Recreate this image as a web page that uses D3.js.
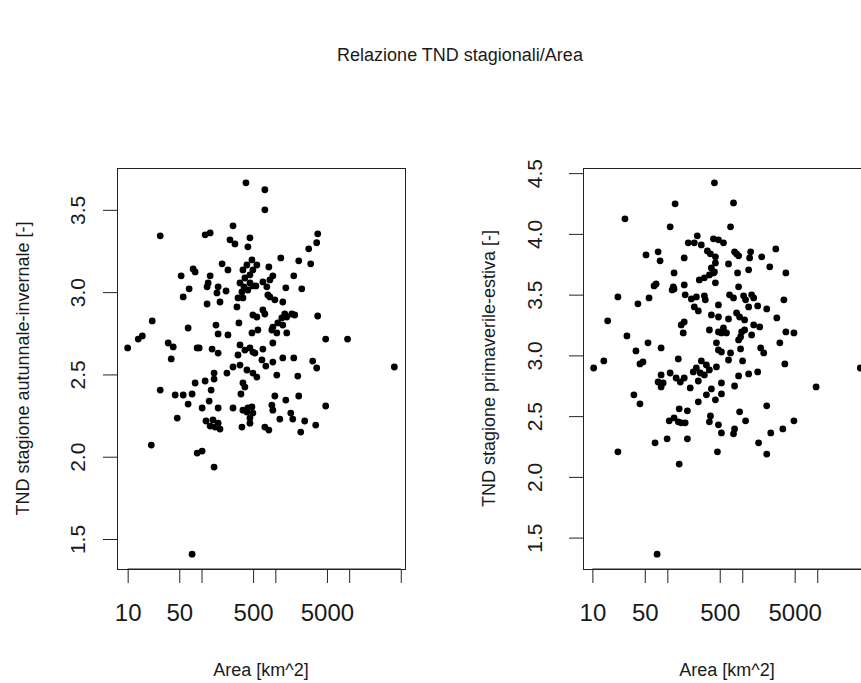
<!DOCTYPE html>
<html>
<head>
<meta charset="utf-8">
<script src="https://cdn.jsdelivr.net/npm/d3@7"></script>
<style>
  body { margin: 0; background: #fff; }
  svg text { font-family: "Liberation Sans", Arial, sans-serif; fill: #1a1a1a; }
</style>
</head>
<body>
<svg id="chart" width="861" height="683"></svg>
<script>
// Autumn-winter TND versus catchment area
const areaAI = [400,721,721,27.6,112,131,267,243,284,453,425,3750,3631,2831,1186,2075,3013,77,82,53,
  190,228,131,364,412,482,562,497,453,387,332,376,453,546,353,425,817,925,843,678,
  767,1778,497,1387,2280,123,119,168,215,162,68,56.5,178,119,312,302,364,792,843,985,
  1262,497,562,321,678,721,1343,1671,1832,1225,1429,1081,1262,3750,21.5,65.9,157,168,228,482,
  580,925,897,1047,1429,15.8,13.9,10,35.4,41.4,38.9,87.3,92.9,139,168,4808,9506,925,332,387,
  312,453,497,678,529,658,925,1262,1778,3206,40900,744,3631,221,267,332,412,497,562,148,
  148,112,82,27.6,44,56.5,74.6,135,364,387,342,1047,2014,985,1387,2075,4808,65.9,127,102,
  168,267,364,425,482,497,453,412,453,897,925,1618,1722,1150,2500,3524,721,817,2208,46.9,
  115,143,168,131,153,178,353,20.9,87.3,102,148,74.6];
const tndAI = [3.664,3.622,3.50,3.342,3.348,3.36,3.403,3.318,3.293,3.33,3.275,3.354,3.30,3.263,3.208,3.19,3.172,3.141,3.123,3.099,
  3.172,3.135,3.099,3.135,3.165,3.196,3.165,3.135,3.105,3.086,3.056,3.032,3.056,3.038,3.001,3.013,3.153,3.099,3.074,3.062,
  3.032,3.099,3.038,3.026,3.02,3.056,3.032,3.032,3.007,2.995,3.02,2.971,2.94,2.928,2.965,2.91,2.965,2.983,2.971,2.953,
  2.94,2.861,2.849,2.813,2.892,2.867,2.867,2.867,2.861,2.843,2.849,2.813,2.80,2.855,2.825,2.782,2.80,2.746,2.74,2.752,
  2.77,2.788,2.77,2.752,2.752,2.734,2.715,2.661,2.691,2.667,2.594,2.661,2.661,2.654,2.63,2.715,2.715,2.691,2.679,2.648,
  2.618,2.661,2.636,2.654,2.63,2.588,2.575,2.60,2.60,2.581,2.545,2.551,2.539,2.508,2.545,2.557,2.527,2.508,2.484,2.508,
  2.472,2.46,2.448,2.405,2.375,2.375,2.381,2.405,2.448,2.423,2.381,2.496,2.49,2.369,2.344,2.369,2.308,2.32,2.338,2.296,
  2.296,2.296,2.283,2.296,2.302,2.265,2.235,2.271,2.204,2.314,2.283,2.265,2.229,2.229,2.217,2.192,2.18,2.162,2.15,2.235,
  2.217,2.223,2.204,2.186,2.18,2.168,2.18,2.071,2.022,2.034,1.937,1.408];

// Spring-summer TND versus catchment area
const areaPE = [127,27.2,109,251,190,229,51.9,75.3,80,168,123,267,66.5,70.8,120,116,123,168,173,209,
  229,259,244,21.9,40.5,57,16,168,153,163,28.9,55.2,38.1,82.6,140,14.2,43.1,47.3,10.4,425,
  764,697,284,412,481,561,342,376,438,789,893,839,1292,1253,1816,2800,438,387,425,364,
  312,412,655,865,1215,2326,3815,438,893,312,321,481,676,764,1041,1107,1333,1419,1215,1605,
  2120,3590,387,481,655,839,921,1074,2891,364,481,561,615,527,980,1074,949,1419,1708,1333,
  3815,4887,893,452,481,527,949,697,655,1760,1932,3170,1010,3698,284,332,37600,244,364,452,
  222,275,259,312,893,1215,1605,527,789,202,387,527,332,259,438,9660,2120,921,1107,376,
  364,481,527,789,764,4887,3476,2398,1650,2120,466,82.6,75.3,87.9,82.6,109,131,149,168,35.8,
  43.1,144,185,106,123,140,153,173,68.6,99.4,185,21.9,144,73];
const tndPE = [4.247,4.124,4.058,3.984,3.926,3.926,3.827,3.852,3.778,3.802,3.679,3.621,3.572,3.588,3.564,3.539,3.547,3.58,3.498,3.465,
  3.399,3.366,3.481,3.481,3.424,3.473,3.284,3.275,3.251,3.185,3.16,3.103,3.037,3.061,2.971,2.954,2.93,2.946,2.896,4.42,
  4.255,4.058,3.909,3.959,3.951,3.926,3.86,3.835,3.811,3.852,3.819,3.835,3.852,3.802,3.811,3.876,3.761,3.72,3.687,3.662,
  3.638,3.679,3.753,3.679,3.704,3.729,3.679,3.597,3.564,3.49,3.457,3.415,3.498,3.473,3.49,3.457,3.498,3.473,3.399,3.407,
  3.382,3.457,3.333,3.316,3.30,3.349,3.316,3.292,3.308,3.209,3.193,3.226,3.185,3.185,3.193,3.209,3.152,3.251,3.234,3.168,
  3.193,3.185,3.127,3.103,3.045,3.028,3.053,3.02,2.962,3.061,3.02,3.103,2.954,2.93,2.954,2.921,2.896,2.896,2.88,2.905,
  2.864,2.855,2.789,2.839,2.831,2.847,2.864,2.773,2.748,2.732,2.724,2.683,2.675,2.618,2.634,2.74,2.585,2.535,2.461,2.502,
  2.453,2.428,2.362,2.395,2.354,2.461,2.395,2.362,2.28,2.188,2.206,2.839,2.781,2.773,2.74,2.855,2.814,2.781,2.814,2.675,
  2.601,2.56,2.544,2.461,2.486,2.453,2.445,2.445,2.28,2.313,2.313,2.206,2.105,1.364];

const xTicks = [10, 50, 100, 500, 1000, 5000, 10000, 50000];
const xTickLabels = [10, 50, 500, 5000];
const yTicksAI = [1.5, 2.0, 2.5, 3.0, 3.5];
const yTicksPE = [1.5, 2.0, 2.5, 3.0, 3.5, 4.0, 4.5];

const mainTitle = "Relazione TND stagionali/Area";
const xTitle = "Area [km^2]";
const yTitleAI = "TND stagione autunnale-invernale [-]";
const yTitlePE = "TND stagione primaverile-estiva [-]";

const svg = d3.select("#chart");
const plotTop = 168, plotBottom = 569, plotWidth = 288;

svg.append("text")
  .attr("x", 460).attr("y", 61)
  .attr("text-anchor", "middle")
  .style("font-size", "18px")
  .text(mainTitle);

const panels = [
  { area: areaAI, tnd: tndAI, yTicks: yTicksAI, yTitle: yTitleAI, left: 117, yLabelGap: 32 },
  { area: areaPE, tnd: tndPE, yTicks: yTicksPE, yTitle: yTitlePE, left: 583, yLabelGap: 41 }
];

// R-style axis range: data extent widened by 4% on each side
function padded(lo, hi) {
  const p = (hi - lo) * 0.04;
  return [lo - p, hi + p];
}

panels.forEach(p => {
  const logExt = d3.extent(p.area).map(Math.log10);
  const lx = padded(logExt[0], logExt[1]);
  const x = d3.scaleLog()
    .domain([Math.pow(10, lx[0]), Math.pow(10, lx[1])])
    .range([p.left, p.left + plotWidth]);
  const yExt = d3.extent(p.tnd);
  const y = d3.scaleLinear()
    .domain(padded(yExt[0], yExt[1]))
    .range([plotBottom, plotTop]);

  const g = svg.append("g");

  // x axis
  const xAxis = d3.axisBottom(x)
    .tickValues(xTicks)
    .tickFormat(d => xTickLabels.includes(d) ? String(d) : "")
    .tickSize(14)
    .tickSizeOuter(0);
  const gx = g.append("g")
    .attr("transform", `translate(0,${plotBottom})`)
    .call(xAxis);
  gx.select(".domain").remove();
  gx.selectAll(".tick line").attr("stroke", "#222").attr("stroke-width", 1);
  gx.append("line")
    .attr("x1", x(xTicks[0])).attr("x2", x(xTicks[xTicks.length - 1]))
    .attr("stroke", "#222");
  gx.selectAll(".tick text")
    .attr("y", 52).attr("dy", 0)
    .style("font-size", "24px")
    .style("font-family", "'Liberation Sans', Arial, sans-serif")
    .attr("fill", "#1a1a1a");

  // y axis
  const yAxis = d3.axisLeft(y)
    .tickValues(p.yTicks)
    .tickFormat(d3.format(".1f"))
    .tickSize(14)
    .tickSizeOuter(0);
  const gy = g.append("g")
    .attr("transform", `translate(${p.left},0)`)
    .call(yAxis);
  gy.select(".domain").remove();
  gy.selectAll(".tick line").attr("stroke", "#222").attr("stroke-width", 1);
  gy.selectAll(".tick text")
    .attr("transform", "rotate(-90)")
    .attr("x", 0).attr("y", -p.yLabelGap).attr("dy", 0)
    .attr("text-anchor", "middle")
    .style("font-size", "21px")
    .style("font-family", "'Liberation Sans', Arial, sans-serif")
    .attr("fill", "#1a1a1a");

  // plot frame
  g.append("rect")
    .attr("x", p.left + 0.5).attr("y", plotTop + 0.5)
    .attr("width", plotWidth).attr("height", plotBottom - plotTop)
    .attr("fill", "none").attr("stroke", "#222").attr("stroke-width", 1);

  // points
  g.append("g")
    .selectAll("circle")
    .data(p.area.map((a, i) => [a, p.tnd[i]]))
    .join("circle")
    .attr("cx", d => x(d[0]))
    .attr("cy", d => y(d[1]))
    .attr("r", 3.4)
    .attr("fill", "#000");

  // axis titles
  g.append("text")
    .attr("x", p.left + plotWidth / 2).attr("y", 676)
    .attr("text-anchor", "middle")
    .style("font-size", "18px")
    .text(xTitle);
  g.append("text")
    .attr("transform", `translate(${p.left - 88},${(plotTop + plotBottom) / 2}) rotate(-90)`)
    .attr("text-anchor", "middle")
    .style("font-size", "18px")
    .text(p.yTitle);
});
</script>
</body>
</html>
